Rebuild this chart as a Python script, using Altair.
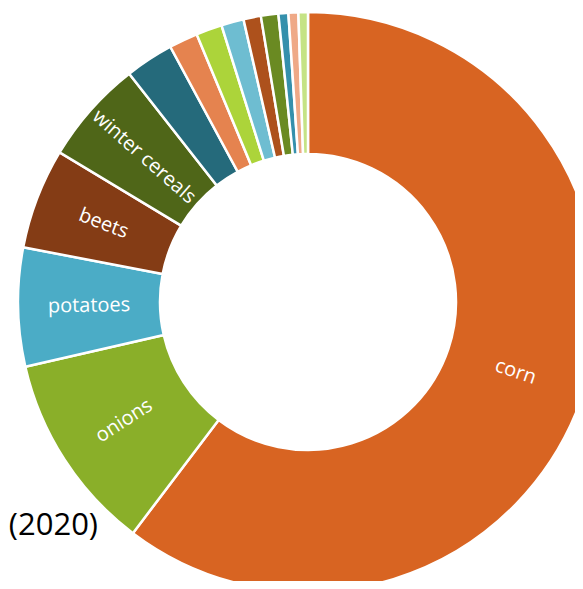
import altair as alt
import pandas as pd

crops = ["corn", "onions", "potatoes", "beets", "winter cereals",
         "carrots", "lettuce", "peas", "beans", "spinach",
         "cabbage", "chicory", "leeks", "other"]
shares = [60.3, 11.1, 6.6, 5.6, 5.8, 2.7, 1.6, 1.45, 1.25, 0.97, 0.97, 0.55, 0.55, 0.53]
colors = ["#D86422", "#8AAF29", "#4BACC6", "#843C15", "#4F6618",
          "#256A7B", "#E5834F", "#ACD43A", "#6EBDD1", "#AD511C",
          "#6A8A22", "#3590AC", "#EFA987", "#C5E385"]
shown = ["corn", "onions", "potatoes", "beets", "winter cereals"]

df = pd.DataFrame({"crop": crops, "share": shares, "idx": list(range(len(crops)))})
total = sum(shares)
cum = 0.0
angles = []
for s in shares:
    mid = (cum + s / 2) / total * 360
    cum += s
    a = mid - 90 if mid < 180 else mid - 270
    angles.append(a % 360)
df["ang"] = angles
df["label"] = [c if c in shown else "" for c in crops]

CX, CY = 300, 294

base = alt.Chart(df).encode(
    theta=alt.Theta("share:Q", stack=True),
    order=alt.Order("idx:Q"),
)

arcs = base.mark_arc(x=CX, y=CY, innerRadius=148, outerRadius=290,
                     stroke="white", strokeWidth=2.5).encode(
    color=alt.Color("crop:N", scale=alt.Scale(domain=crops, range=colors), legend=None)
)

labels = base.mark_text(x=CX, y=CY, radius=219, font="Open Sans", fontSize=20,
                        color="white", align="center", baseline="middle").encode(
    text="label:N",
    angle=alt.Angle("ang:Q", scale=None),
)

year = alt.Chart(pd.DataFrame({"t": ["(2020)"]})).mark_text(
    font="Open Sans", fontSize=31, color="black", align="right", baseline="middle"
).encode(text="t:N", x=alt.value(90), y=alt.value(518))

chart = alt.layer(arcs, labels, year).properties(
    width=567, height=573, autosize=alt.AutoSizeParams(type="none"), padding=0
).configure_view(stroke=None)

chart.save("out.html", embed_options={"renderer": "svg", "actions": False})
